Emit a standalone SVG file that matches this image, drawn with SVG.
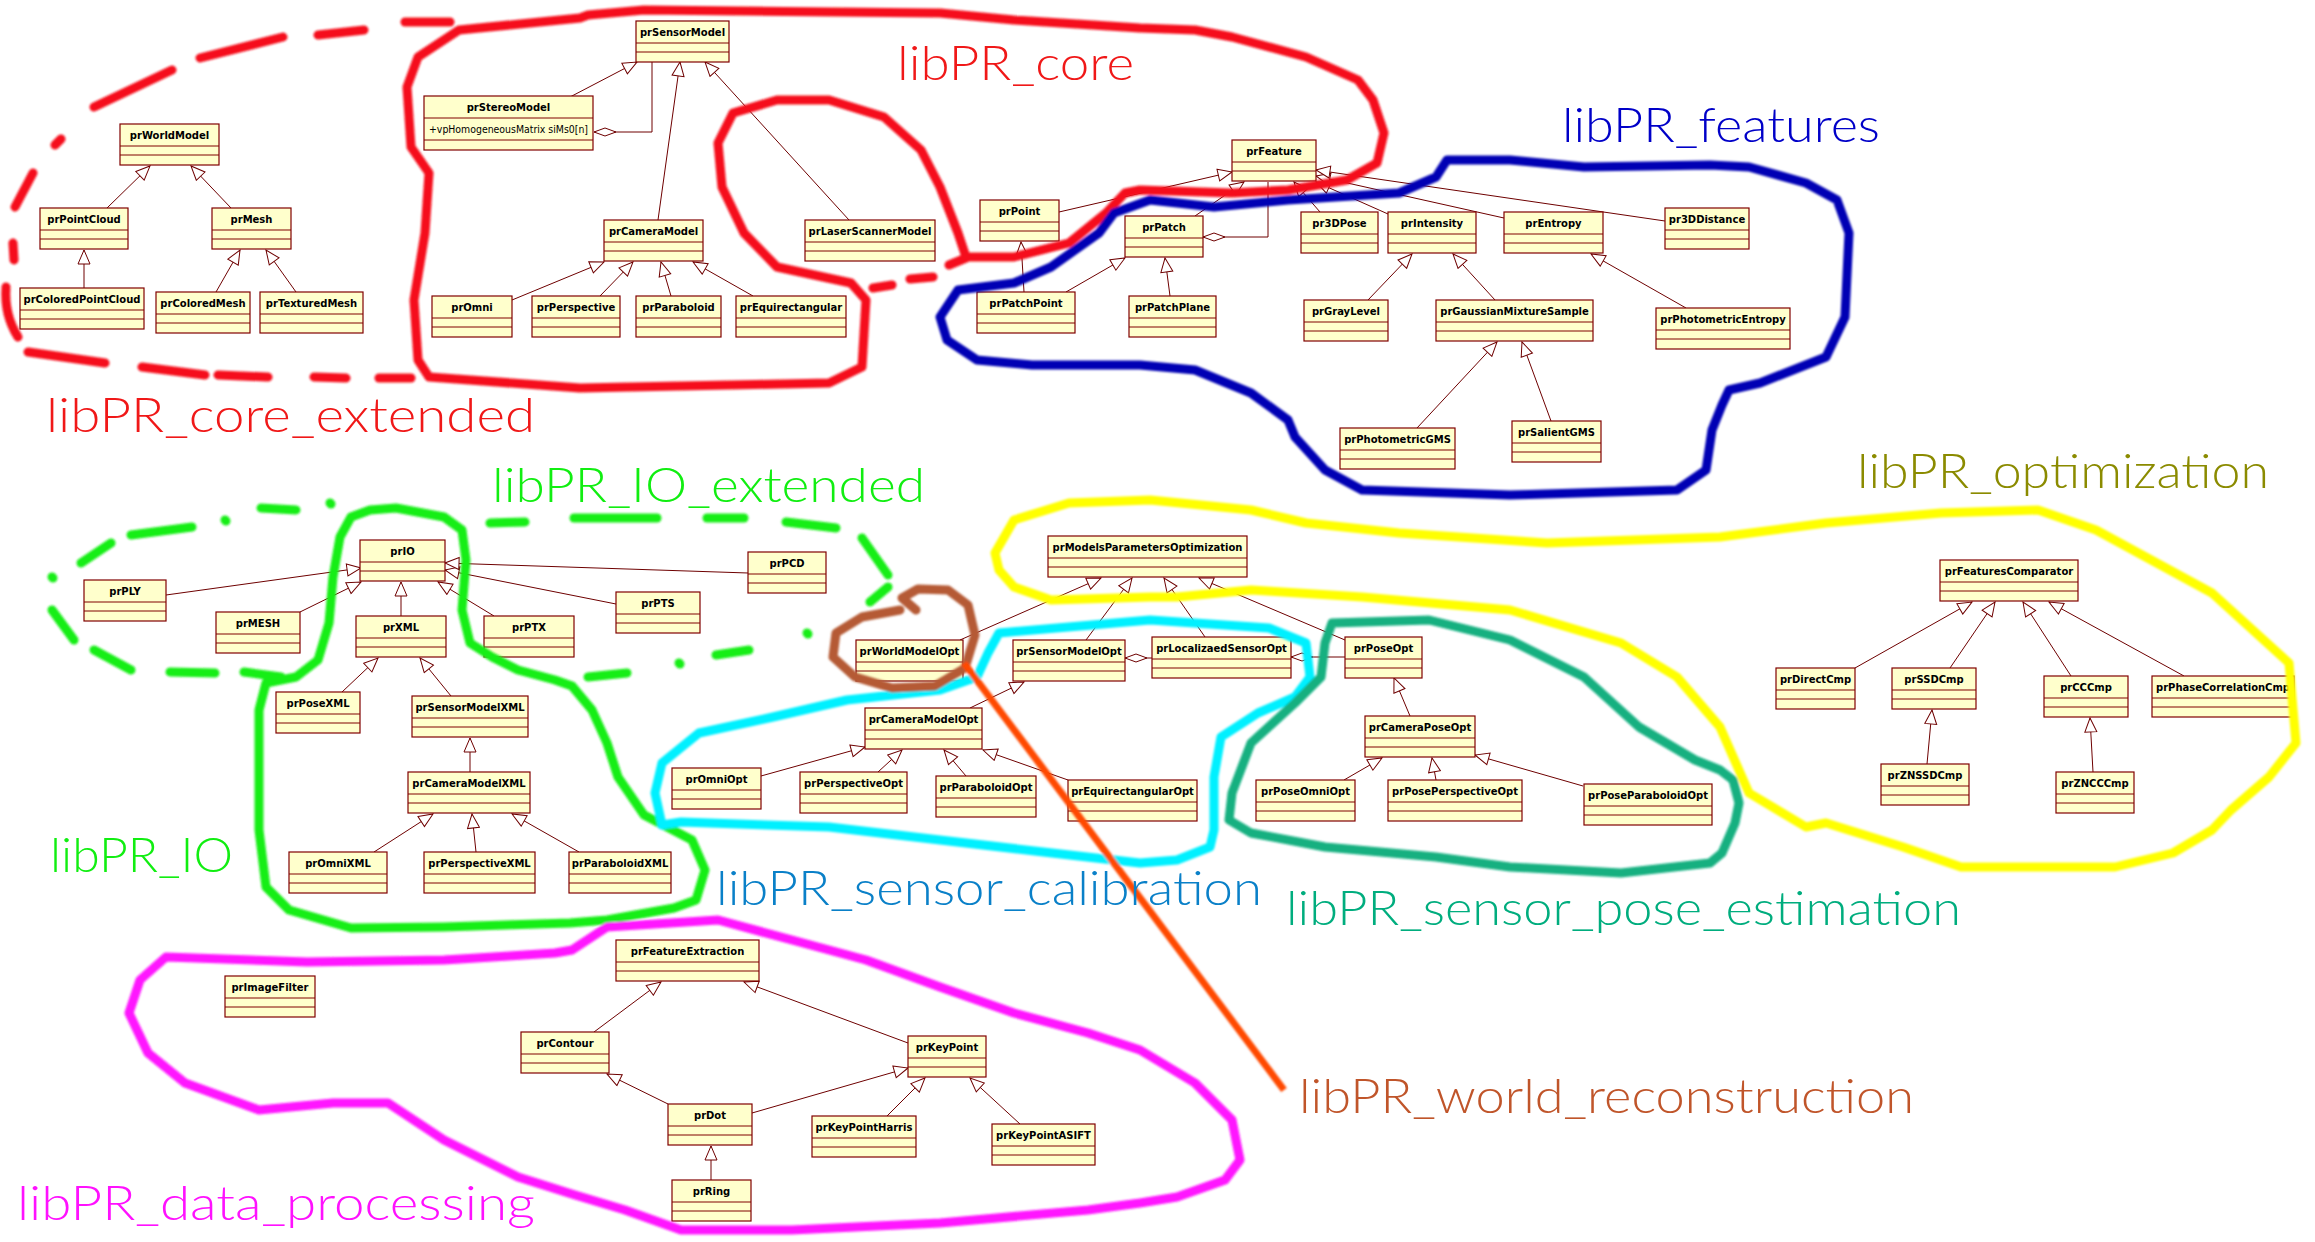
<svg xmlns="http://www.w3.org/2000/svg" width="2315" height="1242" viewBox="0 0 2315 1242">
<style>
.n rect{fill:#ffffcc;stroke:#800000;stroke-width:1.2}
.n path{stroke:#800000;stroke-width:1;fill:none}
.n text{font-family:"DejaVu Sans",sans-serif;font-weight:bold;font-size:10px;text-anchor:middle;fill:#000}
.n text.attr{font-weight:normal;text-anchor:start}
#connectors path{stroke:#6e0000;stroke-width:1;fill:none}
.g{marker-end:url(#gen)}
.a{marker-end:url(#agg)}
.hand{fill:none;stroke-width:9;stroke-linejoin:round;stroke-linecap:round}
.lbl{font-family:Lato,"Open Sans",sans-serif;font-weight:300;font-size:48px}
</style>
<defs>
<marker id="gen" viewBox="0 0 16 14" markerWidth="16" markerHeight="14" refX="15" refY="7" orient="auto" markerUnits="userSpaceOnUse"><path d="M1,1 L15,7 L1,13 Z" fill="#fff" stroke="#6e0000" stroke-width="1"/></marker>
<marker id="agg" viewBox="0 0 24 10" markerWidth="24" markerHeight="10" refX="23" refY="5" orient="auto" markerUnits="userSpaceOnUse"><path d="M1,5 L12,1 L23,5 L12,9 Z" fill="#fff" stroke="#6e0000" stroke-width="1"/></marker>
<filter id="soft" x="-5%" y="-5%" width="110%" height="110%"><feGaussianBlur stdDeviation="0.8"/></filter>
</defs>
<rect width="2315" height="1242" fill="#fff"/>

<g id="connectors">
<path class="g" d="M570,97 L637,62"/>
<path class="a" d="M652,61 L652,132 L594,132"/>
<path class="g" d="M658,220 L680,62"/>
<path class="g" d="M849,220 L705,62"/>
<path class="g" d="M512,300 L604,262"/>
<path class="g" d="M600,296 L633,262"/>
<path class="g" d="M671,296 L661,262"/>
<path class="g" d="M753,296 L693,262"/>
<path class="g" d="M107,208 L150,166"/>
<path class="g" d="M231,208 L191,166"/>
<path class="g" d="M84,288 L84,250"/>
<path class="g" d="M216,292 L240,250"/>
<path class="g" d="M296,292 L266,250"/>
<path class="g" d="M1059,212 L1232,172"/>
<path class="g" d="M1195,216 L1244,182"/>
<path class="a" d="M1268,182 L1268,237 L1203,237"/>
<path class="g" d="M1024,292 L1021,242"/>
<path class="g" d="M1066,292 L1125,258"/>
<path class="g" d="M1170,296 L1165,258"/>
<path class="g" d="M1320,212 L1294,182"/>
<path class="g" d="M1388,214 L1316,182"/>
<path class="g" d="M1504,218 L1316,176"/>
<path class="g" d="M1665,221 L1316,170"/>
<path class="g" d="M1368,300 L1412,254"/>
<path class="g" d="M1495,300 L1453,254"/>
<path class="g" d="M1686,308 L1591,254"/>
<path class="g" d="M1417,428 L1497,342"/>
<path class="g" d="M1551,421 L1522,342"/>
<path class="g" d="M401,616 L401,582"/>
<path class="g" d="M166,595 L361,568"/>
<path class="g" d="M300,612 L361,582"/>
<path class="g" d="M494,616 L438,582"/>
<path class="g" d="M616,604 L445,570"/>
<path class="g" d="M748,573 L445,563"/>
<path class="g" d="M342,692 L378,658"/>
<path class="g" d="M451,696 L420,658"/>
<path class="g" d="M470,772 L470,738"/>
<path class="g" d="M374,852 L433,814"/>
<path class="g" d="M476,852 L472,814"/>
<path class="g" d="M579,852 L512,814"/>
<path class="g" d="M960,640 L1101,578"/>
<path class="g" d="M1086,640 L1132,578"/>
<path class="g" d="M1205,637 L1164,578"/>
<path class="g" d="M1345,640 L1199,578"/>
<path class="a" d="M1152,658 L1125,658"/>
<path class="a" d="M1345,657 L1291,657"/>
<path class="g" d="M970,708 L1024,682"/>
<path class="g" d="M761,776 L865,747"/>
<path class="g" d="M878,772 L902,750"/>
<path class="g" d="M966,776 L944,750"/>
<path class="g" d="M1068,780 L983,750"/>
<path class="g" d="M1410,716 L1394,678"/>
<path class="g" d="M1344,780 L1382,758"/>
<path class="g" d="M1436,780 L1432,758"/>
<path class="g" d="M1583,786 L1475,755"/>
<path class="g" d="M1855,668 L1972,602"/>
<path class="g" d="M1950,668 L1995,602"/>
<path class="g" d="M2071,676 L2023,602"/>
<path class="g" d="M2184,676 L2049,602"/>
<path class="g" d="M1927,764 L1932,710"/>
<path class="g" d="M2093,772 L2090,718"/>
<path class="g" d="M594,1032 L661,982"/>
<path class="g" d="M908,1043 L744,982"/>
<path class="g" d="M668,1104 L607,1074"/>
<path class="g" d="M752,1113 L908,1068"/>
<path class="g" d="M887,1116 L925,1078"/>
<path class="g" d="M1020,1124 L970,1078"/>
<path class="g" d="M711,1180 L711,1146"/>
</g>

<g id="nodes">
<g id="prWorldModel" class="n"><rect x="120" y="124" width="99" height="41"/><path d="M120,146h99M120,155h99"/><text x="169.5" y="139">prWorldModel</text></g>
<g id="prPointCloud" class="n"><rect x="40" y="208" width="88" height="41"/><path d="M40,230h88M40,239h88"/><text x="84" y="223">prPointCloud</text></g>
<g id="prMesh" class="n"><rect x="212" y="208" width="79" height="41"/><path d="M212,230h79M212,239h79"/><text x="251.5" y="223">prMesh</text></g>
<g id="prColoredPointCloud" class="n"><rect x="20" y="288" width="124" height="41"/><path d="M20,310h124M20,319h124"/><text x="82" y="303">prColoredPointCloud</text></g>
<g id="prColoredMesh" class="n"><rect x="156" y="292" width="94" height="41"/><path d="M156,314h94M156,323h94"/><text x="203" y="307">prColoredMesh</text></g>
<g id="prTexturedMesh" class="n"><rect x="260" y="292" width="103" height="41"/><path d="M260,314h103M260,323h103"/><text x="311.5" y="307">prTexturedMesh</text></g>
<g id="prSensorModel" class="n"><rect x="636" y="21" width="93" height="41"/><path d="M636,43h93M636,52h93"/><text x="682.5" y="36">prSensorModel</text></g>
<g id="prStereoModel" class="n"><rect x="424" y="96" width="169" height="54"/><path d="M424,118h169M424,140h169"/><text x="508.5" y="111">prStereoModel</text><text class="attr" x="429" y="133" textLength="159" lengthAdjust="spacingAndGlyphs">+vpHomogeneousMatrix siMs0[n]</text></g>
<g id="prCameraModel" class="n"><rect x="604" y="220" width="99" height="41"/><path d="M604,242h99M604,251h99"/><text x="653.5" y="235">prCameraModel</text></g>
<g id="prLaserScannerModel" class="n"><rect x="805" y="220" width="130" height="41"/><path d="M805,242h130M805,251h130"/><text x="870" y="235">prLaserScannerModel</text></g>
<g id="prOmni" class="n"><rect x="432" y="296" width="80" height="41"/><path d="M432,318h80M432,327h80"/><text x="472" y="311">prOmni</text></g>
<g id="prPerspective" class="n"><rect x="532" y="296" width="88" height="41"/><path d="M532,318h88M532,327h88"/><text x="576" y="311">prPerspective</text></g>
<g id="prParaboloid" class="n"><rect x="636" y="296" width="85" height="41"/><path d="M636,318h85M636,327h85"/><text x="678.5" y="311">prParaboloid</text></g>
<g id="prEquirectangular" class="n"><rect x="736" y="296" width="110" height="41"/><path d="M736,318h110M736,327h110"/><text x="791" y="311">prEquirectangular</text></g>
<g id="prPoint" class="n"><rect x="980" y="200" width="79" height="41"/><path d="M980,222h79M980,231h79"/><text x="1019.5" y="215">prPoint</text></g>
<g id="prPatchPoint" class="n"><rect x="977" y="292" width="98" height="41"/><path d="M977,314h98M977,323h98"/><text x="1026" y="307">prPatchPoint</text></g>
<g id="prPatch" class="n"><rect x="1125" y="216" width="78" height="41"/><path d="M1125,238h78M1125,247h78"/><text x="1164" y="231">prPatch</text></g>
<g id="prPatchPlane" class="n"><rect x="1129" y="296" width="87" height="41"/><path d="M1129,318h87M1129,327h87"/><text x="1172.5" y="311">prPatchPlane</text></g>
<g id="prFeature" class="n"><rect x="1232" y="140" width="84" height="41"/><path d="M1232,162h84M1232,171h84"/><text x="1274" y="155">prFeature</text></g>
<g id="pr3DPose" class="n"><rect x="1301" y="212" width="77" height="41"/><path d="M1301,234h77M1301,243h77"/><text x="1339.5" y="227">pr3DPose</text></g>
<g id="prIntensity" class="n"><rect x="1388" y="212" width="88" height="41"/><path d="M1388,234h88M1388,243h88"/><text x="1432" y="227">prIntensity</text></g>
<g id="prEntropy" class="n"><rect x="1504" y="212" width="99" height="41"/><path d="M1504,234h99M1504,243h99"/><text x="1553.5" y="227">prEntropy</text></g>
<g id="pr3DDistance" class="n"><rect x="1665" y="208" width="84" height="41"/><path d="M1665,230h84M1665,239h84"/><text x="1707" y="223">pr3DDistance</text></g>
<g id="prGrayLevel" class="n"><rect x="1304" y="300" width="84" height="41"/><path d="M1304,322h84M1304,331h84"/><text x="1346" y="315">prGrayLevel</text></g>
<g id="prGaussianMixtureSample" class="n"><rect x="1436" y="300" width="157" height="41"/><path d="M1436,322h157M1436,331h157"/><text x="1514.5" y="315">prGaussianMixtureSample</text></g>
<g id="prPhotometricEntropy" class="n"><rect x="1656" y="308" width="134" height="41"/><path d="M1656,330h134M1656,339h134"/><text x="1723" y="323">prPhotometricEntropy</text></g>
<g id="prPhotometricGMS" class="n"><rect x="1340" y="428" width="115" height="41"/><path d="M1340,450h115M1340,459h115"/><text x="1397.5" y="443">prPhotometricGMS</text></g>
<g id="prSalientGMS" class="n"><rect x="1512" y="421" width="89" height="41"/><path d="M1512,443h89M1512,452h89"/><text x="1556.5" y="436">prSalientGMS</text></g>
<g id="prIO" class="n"><rect x="360" y="540" width="85" height="41"/><path d="M360,562h85M360,571h85"/><text x="402.5" y="555">prIO</text></g>
<g id="prPLY" class="n"><rect x="84" y="580" width="82" height="41"/><path d="M84,602h82M84,611h82"/><text x="125" y="595">prPLY</text></g>
<g id="prMESH" class="n"><rect x="216" y="612" width="84" height="41"/><path d="M216,634h84M216,643h84"/><text x="258" y="627">prMESH</text></g>
<g id="prXML" class="n"><rect x="356" y="616" width="90" height="41"/><path d="M356,638h90M356,647h90"/><text x="401" y="631">prXML</text></g>
<g id="prPTX" class="n"><rect x="484" y="616" width="90" height="41"/><path d="M484,638h90M484,647h90"/><text x="529" y="631">prPTX</text></g>
<g id="prPTS" class="n"><rect x="616" y="592" width="84" height="41"/><path d="M616,614h84M616,623h84"/><text x="658" y="607">prPTS</text></g>
<g id="prPCD" class="n"><rect x="748" y="552" width="78" height="41"/><path d="M748,574h78M748,583h78"/><text x="787" y="567">prPCD</text></g>
<g id="prPoseXML" class="n"><rect x="276" y="692" width="84" height="41"/><path d="M276,714h84M276,723h84"/><text x="318" y="707">prPoseXML</text></g>
<g id="prSensorModelXML" class="n"><rect x="412" y="696" width="116" height="41"/><path d="M412,718h116M412,727h116"/><text x="470" y="711">prSensorModelXML</text></g>
<g id="prCameraModelXML" class="n"><rect x="408" y="772" width="122" height="41"/><path d="M408,794h122M408,803h122"/><text x="469" y="787">prCameraModelXML</text></g>
<g id="prOmniXML" class="n"><rect x="289" y="852" width="98" height="41"/><path d="M289,874h98M289,883h98"/><text x="338" y="867">prOmniXML</text></g>
<g id="prPerspectiveXML" class="n"><rect x="424" y="852" width="111" height="41"/><path d="M424,874h111M424,883h111"/><text x="479.5" y="867">prPerspectiveXML</text></g>
<g id="prParaboloidXML" class="n"><rect x="569" y="852" width="102" height="41"/><path d="M569,874h102M569,883h102"/><text x="620" y="867">prParaboloidXML</text></g>
<g id="prModelsParametersOptimization" class="n"><rect x="1048" y="536" width="199" height="41"/><path d="M1048,558h199M1048,567h199"/><text x="1147.5" y="551">prModelsParametersOptimization</text></g>
<g id="prWorldModelOpt" class="n"><rect x="856" y="640" width="107" height="41"/><path d="M856,662h107M856,671h107"/><text x="909.5" y="655">prWorldModelOpt</text></g>
<g id="prSensorModelOpt" class="n"><rect x="1013" y="640" width="112" height="41"/><path d="M1013,662h112M1013,671h112"/><text x="1069" y="655">prSensorModelOpt</text></g>
<g id="prLocalizaedSensorOpt" class="n"><rect x="1152" y="637" width="139" height="41"/><path d="M1152,659h139M1152,668h139"/><text x="1221.5" y="652">prLocalizaedSensorOpt</text></g>
<g id="prPoseOpt" class="n"><rect x="1345" y="637" width="77" height="41"/><path d="M1345,659h77M1345,668h77"/><text x="1383.5" y="652">prPoseOpt</text></g>
<g id="prCameraModelOpt" class="n"><rect x="865" y="708" width="117" height="41"/><path d="M865,730h117M865,739h117"/><text x="923.5" y="723">prCameraModelOpt</text></g>
<g id="prOmniOpt" class="n"><rect x="672" y="768" width="89" height="41"/><path d="M672,790h89M672,799h89"/><text x="716.5" y="783">prOmniOpt</text></g>
<g id="prPerspectiveOpt" class="n"><rect x="800" y="772" width="107" height="41"/><path d="M800,794h107M800,803h107"/><text x="853.5" y="787">prPerspectiveOpt</text></g>
<g id="prParaboloidOpt" class="n"><rect x="936" y="776" width="100" height="41"/><path d="M936,798h100M936,807h100"/><text x="986" y="791">prParaboloidOpt</text></g>
<g id="prEquirectangularOpt" class="n"><rect x="1068" y="780" width="129" height="41"/><path d="M1068,802h129M1068,811h129"/><text x="1132.5" y="795">prEquirectangularOpt</text></g>
<g id="prCameraPoseOpt" class="n"><rect x="1365" y="716" width="110" height="41"/><path d="M1365,738h110M1365,747h110"/><text x="1420" y="731">prCameraPoseOpt</text></g>
<g id="prPoseOmniOpt" class="n"><rect x="1256" y="780" width="99" height="41"/><path d="M1256,802h99M1256,811h99"/><text x="1305.5" y="795">prPoseOmniOpt</text></g>
<g id="prPosePerspectiveOpt" class="n"><rect x="1388" y="780" width="134" height="41"/><path d="M1388,802h134M1388,811h134"/><text x="1455" y="795">prPosePerspectiveOpt</text></g>
<g id="prPoseParaboloidOpt" class="n"><rect x="1584" y="784" width="128" height="41"/><path d="M1584,806h128M1584,815h128"/><text x="1648" y="799">prPoseParaboloidOpt</text></g>
<g id="prFeaturesComparator" class="n"><rect x="1940" y="560" width="138" height="41"/><path d="M1940,582h138M1940,591h138"/><text x="2009" y="575">prFeaturesComparator</text></g>
<g id="prDirectCmp" class="n"><rect x="1776" y="668" width="79" height="41"/><path d="M1776,690h79M1776,699h79"/><text x="1815.5" y="683">prDirectCmp</text></g>
<g id="prSSDCmp" class="n"><rect x="1892" y="668" width="84" height="41"/><path d="M1892,690h84M1892,699h84"/><text x="1934" y="683">prSSDCmp</text></g>
<g id="prCCCmp" class="n"><rect x="2044" y="676" width="84" height="41"/><path d="M2044,698h84M2044,707h84"/><text x="2086" y="691">prCCCmp</text></g>
<g id="prPhaseCorrelationCmp" class="n"><rect x="2152" y="676" width="142" height="41"/><path d="M2152,698h142M2152,707h142"/><text x="2223" y="691" textLength="134" lengthAdjust="spacingAndGlyphs">prPhaseCorrelationCmp</text></g>
<g id="prZNSSDCmp" class="n"><rect x="1881" y="764" width="88" height="41"/><path d="M1881,786h88M1881,795h88"/><text x="1925" y="779">prZNSSDCmp</text></g>
<g id="prZNCCCmp" class="n"><rect x="2056" y="772" width="78" height="41"/><path d="M2056,794h78M2056,803h78"/><text x="2095" y="787">prZNCCCmp</text></g>
<g id="prImageFilter" class="n"><rect x="225" y="976" width="90" height="41"/><path d="M225,998h90M225,1007h90"/><text x="270" y="991">prImageFilter</text></g>
<g id="prFeatureExtraction" class="n"><rect x="616" y="940" width="143" height="41"/><path d="M616,962h143M616,971h143"/><text x="687.5" y="955">prFeatureExtraction</text></g>
<g id="prContour" class="n"><rect x="521" y="1032" width="88" height="41"/><path d="M521,1054h88M521,1063h88"/><text x="565" y="1047">prContour</text></g>
<g id="prKeyPoint" class="n"><rect x="908" y="1036" width="78" height="41"/><path d="M908,1058h78M908,1067h78"/><text x="947" y="1051">prKeyPoint</text></g>
<g id="prDot" class="n"><rect x="668" y="1104" width="84" height="41"/><path d="M668,1126h84M668,1135h84"/><text x="710" y="1119">prDot</text></g>
<g id="prKeyPointHarris" class="n"><rect x="812" y="1116" width="104" height="41"/><path d="M812,1138h104M812,1147h104"/><text x="864" y="1131">prKeyPointHarris</text></g>
<g id="prKeyPointASIFT" class="n"><rect x="992" y="1124" width="103" height="41"/><path d="M992,1146h103M992,1155h103"/><text x="1043.5" y="1139">prKeyPointASIFT</text></g>
<g id="prRing" class="n"><rect x="672" y="1180" width="79" height="41"/><path d="M672,1202h79M672,1211h79"/><text x="711.5" y="1195">prRing</text></g>
</g>

<g id="outlines" filter="url(#soft)">
<polygon class="hand" stroke="#f5101c" points="459,30 580,18 588,15 644,10 940,13 1014,20 1140,28 1195,30 1232,37 1306,57 1358,80 1373,100 1384,133 1377,163 1347,180 1288,190 1232,193 1140,190 1125,193 1106,213 1069,243 1014,257 966,257 958,233 940,187 921,150 884,117 829,100 777,100 733,113 718,143 722,187 744,233 777,267 851,283 866,300 862,367 829,383 580,388 429,377 418,360 414,300 425,233 429,173 411,147 407,87 418,57"/>
<g stroke="#f5101c" class="hand">
<path d="M405,22 L450,22"/>
<path d="M318,35 L364,30"/>
<path d="M200,58 L283,37"/>
<path d="M94,107 L172,70"/>
<path d="M55,145 L61,139"/>
<path d="M15,207 L33,173"/>
<path d="M13,243 L14,260"/>
<path d="M6,287 Q4,315 18,337"/>
<path d="M28,352 L105,363"/>
<path d="M142,367 L205,375"/>
<path d="M218,375 L268,377"/>
<path d="M314,377 L346,378"/>
<path d="M379,378 L411,378"/>
<path d="M873,288 L892,285"/>
<path d="M910,279 L933,277"/>
<path d="M949,265 L966,258"/>
</g>
<polygon class="hand" stroke="#0000b4" points="1150,200 1114,213 1099,233 1051,267 1014,283 958,290 940,317 947,340 977,360 1032,365 1140,365 1195,370 1251,393 1288,420 1295,437 1325,470 1362,490 1510,495 1677,490 1706,470 1712,430 1722,405 1729,390 1760,383 1826,357 1845,317 1849,233 1837,200 1806,183 1749,167 1710,165 1584,167 1510,160 1447,160 1436,177 1399,193 1288,200 1214,207"/>
<g stroke="#16ee16" class="hand">
<path d="M52,577 L53,578"/>
<path d="M81,563 L111,543"/>
<path d="M131,535 L192,527"/>
<path d="M225,520 L226,521"/>
<path d="M261,508 L296,510"/>
<path d="M330,503 L331,504"/>
<path d="M490,523 L525,522"/>
<path d="M574,518 L657,518"/>
<path d="M707,518 L744,518"/>
<path d="M786,522 L836,528"/>
<path d="M862,538 L888,575"/>
<path d="M870,602 L888,587"/>
<path d="M807,633 L808,634"/>
<path d="M716,655 L749,650"/>
<path d="M679,663 L680,664"/>
<path d="M588,677 L627,673"/>
<path d="M52,610 L74,640"/>
<path d="M94,650 L131,670"/>
<path d="M170,672 L215,673"/>
<path d="M244,672 L281,677"/>
</g>
<polygon class="hand" stroke="#16ee16" points="259,830 259,710 266,683 296,677 318,660 329,623 333,577 340,537 351,517 370,510 396,508 444,517 462,530 466,560 462,610 470,643 492,657 518,670 555,680 572,686 592,710 607,743 618,777 644,815 692,840 705,870 696,900 674,908 607,920 570,923 444,927 351,928 289,910 266,887"/>
<polygon class="hand" stroke="#ffff00" points="995,553 1014,520 1069,503 1150,500 1251,510 1306,523 1399,533 1547,543 1720,537 1826,523 1941,513 2038,510 2096,530 2212,593 2289,663 2296,743 2269,777 2231,810 2212,830 2173,853 2115,867 1961,867 1903,847 1826,823 1806,827 1749,793 1720,727 1677,677 1621,643 1510,610 1362,597 1251,590 1177,597 1150,597 1051,600 1014,587 999,570"/>
<polygon class="hand" stroke="#00f0ff" points="999,633 1150,620 1269,628 1306,643 1310,677 1295,697 1258,713 1221,737 1214,777 1214,830 1210,847 1177,860 1140,863 1052,853 940,840 829,827 681,822 662,825 655,793 662,763 699,733 773,717 847,700 940,690 977,677 988,653"/>
<polygon class="hand" stroke="#12b080" points="1332,623 1429,620 1510,640 1584,677 1639,727 1695,760 1720,770 1733,780 1739,803 1735,823 1722,853 1710,863 1621,873 1510,867 1436,857 1325,847 1251,833 1229,820 1232,793 1251,743 1295,703 1321,677 1325,643"/>
<path class="hand" stroke="#b55a35" d="M916,610 L902,598 L918,589 L948,590 L968,605 L975,635 L965,668 L935,686 L892,688 L855,677 L833,657 L836,633 L862,617 L900,610"/>
<polygon class="hand" stroke="#ff14ff" points="166,957 307,962 444,960 555,953 572,950 607,927 718,920 792,940 866,960 940,987 1014,1013 1088,1033 1140,1050 1195,1083 1232,1120 1240,1160 1225,1180 1177,1197 1140,1203 1088,1210 940,1223 792,1230 681,1230 625,1210 575,1195 518,1177 444,1140 388,1103 333,1103 259,1110 185,1083 148,1053 129,1013 140,980"/>
<path stroke="#ff4a00" stroke-width="7" fill="none" d="M964,663 L1284,1090"/>
</g>

<g id="labels" class="lbl">
<text x="897" y="80" fill="#f01818" textLength="237" lengthAdjust="spacingAndGlyphs">libPR_core</text>
<text x="46" y="432" fill="#f01818" textLength="489" lengthAdjust="spacingAndGlyphs">libPR_core_extended</text>
<text x="1562" y="142" fill="#0000c8" textLength="318" lengthAdjust="spacingAndGlyphs">libPR_features</text>
<text x="492" y="502" fill="#11ee11" textLength="433" lengthAdjust="spacingAndGlyphs">libPR_IO_extended</text>
<text x="1857" y="488" fill="#8b8b00" textLength="412" lengthAdjust="spacingAndGlyphs">libPR_optimization</text>
<text x="50" y="872" fill="#11ee11" textLength="183" lengthAdjust="spacingAndGlyphs">libPR_IO</text>
<text x="716" y="905" fill="#0a80c8" textLength="546" lengthAdjust="spacingAndGlyphs">libPR_sensor_calibration</text>
<text x="1286" y="925" fill="#00ad7e" textLength="675" lengthAdjust="spacingAndGlyphs">libPR_sensor_pose_estimation</text>
<text x="1299" y="1113" fill="#c0552a" textLength="615" lengthAdjust="spacingAndGlyphs">libPR_world_reconstruction</text>
<text x="17" y="1220" fill="#ff11ff" textLength="518" lengthAdjust="spacingAndGlyphs">libPR_data_processing</text>
</g>
</svg>
